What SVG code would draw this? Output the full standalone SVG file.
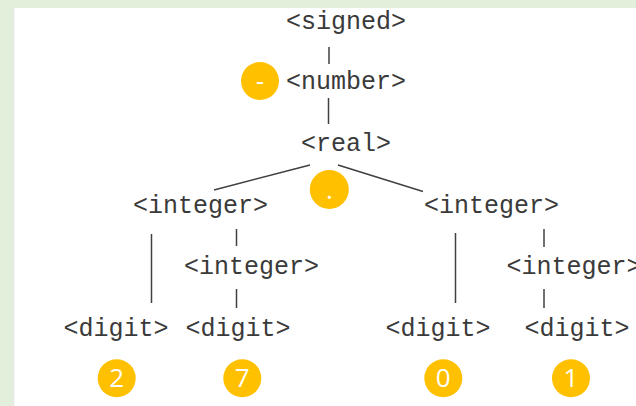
<svg xmlns="http://www.w3.org/2000/svg" width="636" height="406" viewBox="0 0 636 406">
  <style>
    .nt { font-family: "Liberation Mono", "Courier New", monospace; font-size: 25px; fill: #3a3a3a; text-anchor: middle; }
    .tok { fill: #FFC000; }
    .tokt { font-family: "Open Sans", "Noto Sans", sans-serif; font-size: 26px; fill: #ffffff; text-anchor: middle; }
    .edge { stroke: #404040; stroke-width: 1.5; fill: none; }
  </style>

  <!-- page background and panel -->
  <rect x="0" y="0" width="636" height="406" fill="#E2EFDA"/>
  <rect x="13" y="8" width="623" height="398" fill="#ffffff"/>
  <line x1="13.5" y1="8" x2="13.5" y2="406" stroke="#e6e6e6" stroke-width="1.5"/>

  <!-- parse tree edges -->
  <g id="connectors">
    <line class="edge" x1="329" y1="47" x2="329" y2="64"/>
    <line class="edge" x1="328.5" y1="98" x2="328.5" y2="124"/>
    <line class="edge" x1="310" y1="165" x2="214" y2="190"/>
    <line class="edge" x1="338" y1="165" x2="423" y2="191.5"/>
    <line class="edge" x1="151.5" y1="234" x2="151.5" y2="303"/>
    <line class="edge" x1="236.5" y1="229" x2="236.5" y2="246"/>
    <line class="edge" x1="236.5" y1="289" x2="236.5" y2="308"/>
    <line class="edge" x1="455.5" y1="233" x2="455.5" y2="303"/>
    <line class="edge" x1="544" y1="229" x2="544" y2="247"/>
    <line class="edge" x1="544" y1="289" x2="544" y2="308"/>
  </g>

  <!-- nonterminals -->
  <g id="signed"><text class="nt" x="346" y="29">&lt;signed&gt;</text></g>
  <g id="number"><text class="nt" x="346" y="89">&lt;number&gt;</text></g>
  <g id="real"><text class="nt" x="346" y="151">&lt;real&gt;</text></g>
  <g id="integer-left"><text class="nt" x="200.5" y="213">&lt;integer&gt;</text></g>
  <g id="integer-right"><text class="nt" x="491.5" y="213">&lt;integer&gt;</text></g>
  <g id="integer-left-2"><text class="nt" x="251.5" y="274">&lt;integer&gt;</text></g>
  <g id="integer-right-2"><text class="nt" x="574" y="274">&lt;integer&gt;</text></g>
  <g id="digit-1"><text class="nt" x="116" y="336">&lt;digit&gt;</text></g>
  <g id="digit-2"><text class="nt" x="238" y="336">&lt;digit&gt;</text></g>
  <g id="digit-3"><text class="nt" x="438" y="336">&lt;digit&gt;</text></g>
  <g id="digit-4"><text class="nt" x="577" y="336">&lt;digit&gt;</text></g>

  <!-- terminal tokens -->
  <g id="tok-minus"><circle class="tok" cx="260" cy="81" r="19"/><text class="tokt" x="260" y="90">-</text></g>
  <g id="tok-point"><circle class="tok" cx="329.3" cy="189.5" r="19.5"/><text class="tokt" x="329.3" y="199">.</text></g>
  <g id="tok-2"><circle class="tok" cx="116.7" cy="378.3" r="19"/><text class="tokt" x="116.7" y="387">2</text></g>
  <g id="tok-7"><circle class="tok" cx="242.3" cy="378.3" r="19"/><text class="tokt" x="242.3" y="387">7</text></g>
  <g id="tok-0"><circle class="tok" cx="443.3" cy="378.3" r="19"/><text class="tokt" x="443.3" y="387">0</text></g>
  <g id="tok-1"><circle class="tok" cx="571" cy="378.3" r="19"/><text class="tokt" x="571" y="387">1</text></g>
</svg>
